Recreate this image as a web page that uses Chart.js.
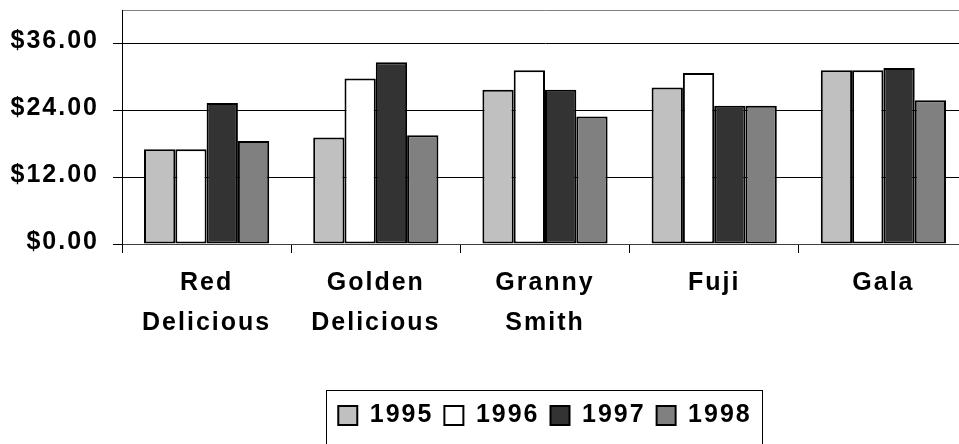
<!DOCTYPE html>
<html>
<head>
<meta charset="utf-8">
<script src="https://cdn.jsdelivr.net/npm/chart.js@4/dist/chart.umd.min.js"></script>
<style>
  html, body { margin: 0; padding: 0; background: #fff; overflow: hidden; width: 959px; height: 444px; }
  #wrap { width: 970px; height: 444px; }
</style>
</head>
<body>
<div id="wrap"><canvas id="c" width="970" height="444"></canvas></div>
<script>
// Apple prices by variety, 1995-1998
const categories = [['Red', 'Delicious'], ['Golden', 'Delicious'], ['Granny', 'Smith'], 'Fuji', 'Gala'];
const years = ['1995', '1996', '1997', '1998'];
const prices1995 = [17.0, 19.1, 27.7, 28.1, 31.2];
const prices1996 = [17.0, 29.7, 31.2, 30.7, 31.2];
const prices1997 = [25.3, 32.6, 27.7, 24.8, 31.6];
const prices1998 = [18.5, 19.5, 22.9, 24.8, 25.8];
const yTickValues = [0, 12, 24, 36];
const yMax = 42;

const fills = ['#C0C0C0', '#FFFFFF', '#333333', '#808080'];
const FONT = { family: '"Liberation Sans", Arial, sans-serif', size: 25, weight: 'bold' };

// Wide, spaced-out bold lettering
const spacing = {
  id: 'spacing',
  beforeUpdate(chart) { chart.ctx.letterSpacing = '2px'; },
  beforeLayout(chart) { chart.ctx.letterSpacing = '2px'; },
  beforeDraw(chart) { chart.ctx.letterSpacing = '2px'; }
};

// Frame around the legend
const legendFrame = {
  id: 'legendFrame',
  afterDraw(chart) {
    const lg = chart.legend;
    const hb = lg.legendHitBoxes;
    if (!hb || !hb.length) return;
    const last = hb[hb.length - 1];
    const left = Math.round(hb[0].left - 12);
    const right = Math.round(last.left + last.width + 10);
    const ctx = chart.ctx;
    ctx.save();
    ctx.strokeStyle = '#000';
    ctx.lineWidth = 1;
    ctx.strokeRect(left + 0.5, Math.round(lg.top) - 1.5, right - left, 80);
    ctx.restore();
  }
};

const seriesValues = [prices1995, prices1996, prices1997, prices1998];

new Chart(document.getElementById('c'), {
  type: 'bar',
  data: {
    labels: categories,
    datasets: years.map((y, i) => ({
      label: y,
      data: seriesValues[i],
      backgroundColor: fills[i],
      borderColor: '#000',
      borderWidth: 2,
      borderSkipped: false,
      categoryPercentage: 0.74,
      barPercentage: 1.0
    }))
  },
  options: {
    responsive: false,
    animation: false,
    devicePixelRatio: 1,
    layout: { padding: { top: 10, right: 2, left: 10, bottom: 6 } },
    plugins: {
      tooltip: { enabled: false },
      legend: {
        position: 'bottom',
        fullSize: false,
        labels: { boxWidth: 19, boxHeight: 19, padding: 11, color: '#000', font: FONT }
      }
    },
    scales: {
      x: {
        offset: true,
        afterFit: s => { s.height = 148; s.paddingLeft = 0; s.paddingRight = 0; },
        border: { color: '#404040', width: 1 },
        grid: { offset: true, drawOnChartArea: false, tickLength: 9, tickColor: '#000' },
        ticks: {
          color: '#000',
          font: Object.assign({}, FONT, { lineHeight: 1.6 }),
          padding: 10,
          maxRotation: 0,
          autoSkip: false
        }
      },
      y: {
        min: 0,
        max: yMax,
        afterBuildTicks: s => { s.ticks = yTickValues.concat([yMax]).map(v => ({ value: v })); },
        afterFit: s => { s.width = 112; s.paddingTop = 0; s.paddingBottom = 0; },
        border: { color: '#000', width: 1 },
        grid: {
          color: c => (c.tick && c.tick.value === yMax) ? '#808080' : '#000',
          tickColor: c => (c.tick && c.tick.value === yMax) ? 'rgba(0,0,0,0)' : '#000',
          tickLength: 9,
          lineWidth: 1
        },
        ticks: {
          color: '#000',
          font: FONT,
          padding: 14,
          labelOffset: -2,
          callback: v => v === yMax ? '' : '$' + Number(v).toFixed(2)
        }
      }
    }
  },
  plugins: [spacing, legendFrame]
});
</script>
</body>
</html>
